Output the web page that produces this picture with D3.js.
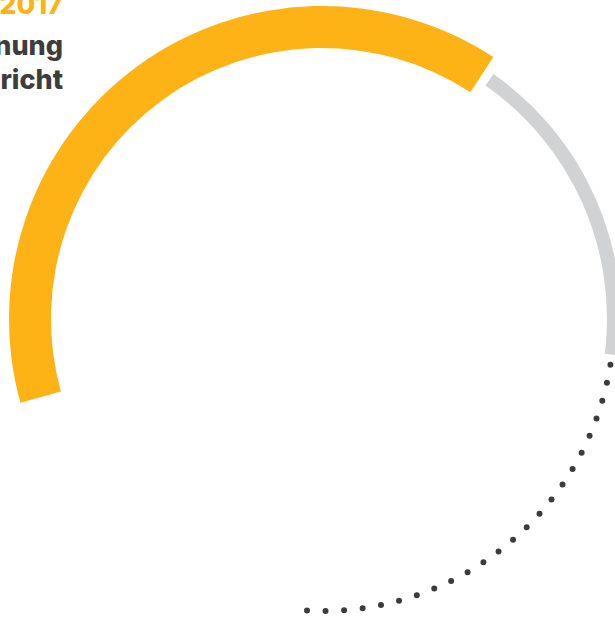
<!DOCTYPE html>
<html>
<head>
<meta charset="utf-8">
<script src="https://cdn.jsdelivr.net/npm/d3@7"></script>
<style>
  html, body { margin: 0; padding: 0; background: #fff; }
  svg { display: block; }
  .label { font-family: Inter, "Noto Sans", sans-serif; font-weight: 800; }
</style>
</head>
<body>
<svg id="chart"></svg>
<script>
// ring segments, angles in degrees clockwise from 12 o'clock
const segNames = ["erreicht", "offen", "prognose"];
const segStart = [-105.5, 35, 99];
const segEnd   = [33.2, 97, 183];

// labels, top left (cut off in the source)
const labelTexts = ["2017", "hnung", "richt"];

const W = 615, H = 618;
const cx = 322, cy = 319;
const R = 292;

const svg = d3.select("#chart").attr("width", W).attr("height", H);
const g = svg.append("g").attr("transform", `translate(${cx},${cy})`);

const ang = d3.scaleLinear().domain([0, 360]).range([0, 2 * Math.PI]);

// orange band
g.append("path")
  .attr("d", d3.arc().innerRadius(271).outerRadius(313)
    .startAngle(ang(segStart[0])).endAngle(ang(segEnd[0]))())
  .attr("fill", "#fdb316");

// grey band
g.append("path")
  .attr("d", d3.arc().innerRadius(R - 7).outerRadius(R + 7)
    .startAngle(ang(segStart[1])).endAngle(ang(segEnd[1]))())
  .attr("fill", "#d1d2d4");

// dotted part
const p = d3.path();
p.arc(0, 0, R, ang(segStart[2]) - Math.PI / 2, ang(segEnd[2]) - Math.PI / 2);
const arcLen = R * (ang(segEnd[2]) - ang(segStart[2]));
const nDots = 24;
g.append("path")
  .attr("d", p.toString())
  .attr("fill", "none")
  .attr("stroke", "#3c3c3c")
  .attr("stroke-width", 6)
  .attr("stroke-linecap", "round")
  .attr("stroke-dasharray", `0 ${arcLen / (nDots - 1) - 0.02}`);

// labels
const labelColors = ["#fdb316", "#3d3d3d", "#3d3d3d"];
const labelY = [14, 55, 89];
svg.selectAll("text.label")
  .data(labelTexts)
  .join("text")
  .attr("class", "label")
  .attr("x", 63)
  .attr("y", (d, i) => labelY[i])
  .attr("text-anchor", "end")
  .attr("font-size", 27)
  .attr("fill", (d, i) => labelColors[i])
  .text(d => d);
</script>
</body>
</html>
